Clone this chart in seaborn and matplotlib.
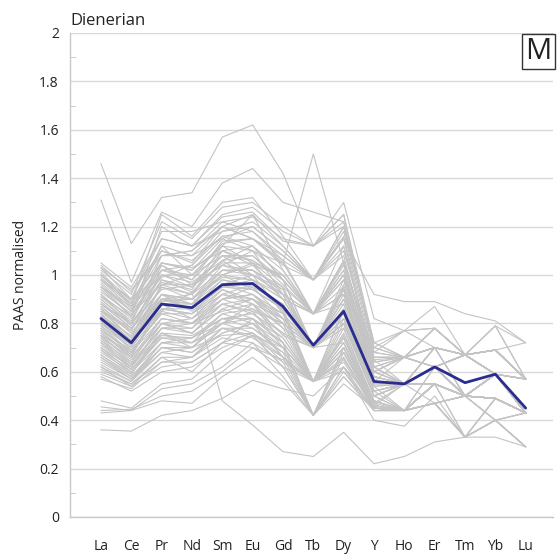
import numpy as np
import pandas as pd
import matplotlib
matplotlib.use("Agg")
import matplotlib.pyplot as plt
import seaborn as sns
from matplotlib.ticker import MultipleLocator

elements = ["La", "Ce", "Pr", "Nd", "Sm", "Eu", "Gd", "Tb", "Dy", "Y", "Ho", "Er", "Tm", "Yb", "Lu"]

mean_line = [0.82, 0.72, 0.88, 0.865, 0.96, 0.965, 0.87, 0.71, 0.85, 0.56, 0.55, 0.62, 0.555, 0.59, 0.45]

samples = [
    [1.46, 1.13, 1.32, 1.34, 1.57, 1.62, 1.42, 1.12, 1.25, 0.72, 0.66, 0.70, 0.67, 0.69, 0.57],
    [1.31, 0.97, 1.26, 1.20, 1.38, 1.44, 1.30, 1.26, 1.22, 0.70, 0.66, 0.78, 0.67, 0.69, 0.57],
    [0.95, 0.85, 1.05, 1.02, 1.12, 1.10, 1.05, 1.50, 1.05, 0.65, 0.55, 0.62, 0.50, 0.59, 0.57],
    [1.00, 0.88, 1.12, 1.08, 1.20, 1.25, 1.12, 0.98, 1.15, 0.92, 0.89, 0.89, 0.84, 0.81, 0.72],
    [0.98, 0.90, 1.15, 1.12, 1.25, 1.28, 1.18, 1.12, 1.30, 0.82, 0.77, 0.87, 0.67, 0.79, 0.72],
    [0.36, 0.355, 0.42, 0.44, 0.49, 0.565, 0.53, 0.50, 0.62, 0.40, 0.375, 0.50, 0.33, 0.49, 0.43],
    [0.75, 0.68, 0.85, 0.93, 0.48, 0.38, 0.27, 0.25, 0.35, 0.22, 0.25, 0.31, 0.33, 0.33, 0.29],
    [0.48, 0.45, 0.55, 0.57, 0.68, 0.75, 0.62, 0.56, 0.70, 0.46, 0.44, 0.55, 0.50, 0.49, 0.43],
    [0.455, 0.44, 0.53, 0.55, 0.62, 0.72, 0.58, 0.42, 0.55, 0.45, 0.44, 0.47, 0.33, 0.40, 0.29],
    [0.44, 0.445, 0.50, 0.52, 0.60, 0.70, 0.65, 0.56, 0.62, 0.48, 0.44, 0.55, 0.50, 0.49, 0.43],
    [0.43, 0.44, 0.48, 0.47, 0.58, 0.66, 0.56, 0.42, 0.58, 0.44, 0.44, 0.47, 0.33, 0.40, 0.43],
    [0.58, 0.52, 0.60, 0.62, 0.70, 0.75, 0.70, 0.56, 0.72, 0.48, 0.44, 0.55, 0.50, 0.49, 0.43],
    [0.62, 0.54, 0.66, 0.60, 0.72, 0.82, 0.66, 0.56, 0.68, 0.46, 0.44, 0.62, 0.50, 0.59, 0.43],
    [1.05, 0.95, 1.15, 1.12, 1.18, 1.20, 1.10, 0.98, 1.20, 0.70, 0.66, 0.70, 0.67, 0.69, 0.57],
    [1.02, 0.92, 1.22, 1.15, 1.28, 1.30, 1.20, 1.12, 1.20, 0.72, 0.77, 0.78, 0.67, 0.69, 0.57],
    [1.00, 0.88, 1.10, 1.05, 1.20, 1.15, 1.05, 0.84, 1.05, 0.68, 0.66, 0.70, 0.67, 0.59, 0.57],
    [0.98, 0.86, 1.05, 1.02, 1.15, 1.10, 1.00, 0.84, 1.00, 0.65, 0.66, 0.62, 0.67, 0.69, 0.57],
    [0.95, 0.83, 1.02, 0.98, 1.10, 1.12, 0.98, 0.70, 0.98, 0.62, 0.55, 0.70, 0.50, 0.59, 0.43],
    [0.92, 0.82, 1.00, 0.95, 1.05, 1.05, 0.95, 0.84, 0.95, 0.60, 0.55, 0.62, 0.67, 0.59, 0.57],
    [0.90, 0.80, 0.98, 0.95, 1.08, 1.00, 0.92, 0.70, 0.92, 0.58, 0.55, 0.62, 0.50, 0.59, 0.43],
    [0.88, 0.78, 0.95, 0.92, 1.02, 1.02, 0.95, 0.70, 0.90, 0.60, 0.66, 0.62, 0.67, 0.59, 0.43],
    [0.86, 0.76, 0.92, 0.90, 1.00, 0.98, 0.90, 0.84, 0.88, 0.56, 0.55, 0.55, 0.50, 0.59, 0.43],
    [0.85, 0.74, 0.90, 0.88, 0.98, 0.95, 0.88, 0.70, 0.85, 0.55, 0.55, 0.62, 0.50, 0.49, 0.43],
    [0.84, 0.73, 0.92, 0.85, 0.95, 0.98, 0.85, 0.56, 0.82, 0.52, 0.44, 0.55, 0.50, 0.59, 0.43],
    [0.82, 0.72, 0.88, 0.88, 0.95, 0.94, 0.86, 0.70, 0.85, 0.54, 0.55, 0.70, 0.50, 0.59, 0.43],
    [0.80, 0.70, 0.86, 0.84, 0.92, 0.90, 0.82, 0.70, 0.80, 0.50, 0.55, 0.62, 0.67, 0.59, 0.43],
    [0.78, 0.68, 0.85, 0.82, 0.90, 0.92, 0.80, 0.56, 0.78, 0.48, 0.44, 0.55, 0.50, 0.49, 0.43],
    [0.76, 0.66, 0.82, 0.80, 0.92, 0.88, 0.78, 0.70, 0.82, 0.50, 0.55, 0.62, 0.50, 0.59, 0.43],
    [0.75, 0.65, 0.80, 0.78, 0.88, 0.85, 0.80, 0.56, 0.75, 0.47, 0.44, 0.55, 0.50, 0.49, 0.43],
    [0.72, 0.63, 0.78, 0.80, 0.85, 0.88, 0.75, 0.70, 0.72, 0.46, 0.44, 0.47, 0.50, 0.49, 0.43],
    [0.70, 0.62, 0.76, 0.75, 0.82, 0.82, 0.72, 0.56, 0.70, 0.45, 0.44, 0.55, 0.33, 0.49, 0.43],
    [0.68, 0.60, 0.74, 0.72, 0.80, 0.85, 0.70, 0.42, 0.68, 0.45, 0.44, 0.47, 0.50, 0.40, 0.29],
    [0.66, 0.58, 0.72, 0.72, 0.78, 0.78, 0.68, 0.56, 0.65, 0.46, 0.55, 0.55, 0.50, 0.49, 0.43],
    [0.64, 0.57, 0.70, 0.68, 0.76, 0.80, 0.66, 0.42, 0.62, 0.44, 0.44, 0.47, 0.33, 0.40, 0.29],
    [0.62, 0.56, 0.68, 0.70, 0.75, 0.76, 0.64, 0.56, 0.60, 0.45, 0.44, 0.55, 0.50, 0.49, 0.43],
    [0.60, 0.55, 0.66, 0.66, 0.78, 0.75, 0.62, 0.42, 0.58, 0.44, 0.44, 0.47, 0.50, 0.40, 0.43],
    [1.03, 0.94, 1.08, 1.10, 1.22, 1.18, 1.08, 0.98, 1.10, 0.66, 0.66, 0.78, 0.67, 0.69, 0.57],
    [0.97, 0.85, 1.12, 1.00, 1.12, 1.25, 1.02, 0.84, 1.12, 0.64, 0.66, 0.70, 0.67, 0.69, 0.57],
    [0.93, 0.84, 0.96, 1.00, 1.08, 1.08, 0.98, 0.84, 1.02, 0.62, 0.55, 0.62, 0.67, 0.59, 0.57],
    [0.88, 0.80, 0.94, 0.96, 1.04, 1.10, 0.92, 0.70, 0.96, 0.58, 0.55, 0.70, 0.50, 0.59, 0.43],
    [0.83, 0.75, 0.95, 0.90, 1.00, 1.05, 0.90, 0.84, 0.92, 0.56, 0.66, 0.62, 0.67, 0.69, 0.57],
    [0.79, 0.70, 0.90, 0.86, 0.98, 0.96, 0.88, 0.70, 0.88, 0.55, 0.55, 0.62, 0.50, 0.59, 0.43],
    [0.77, 0.69, 0.84, 0.84, 0.96, 1.00, 0.84, 0.56, 0.86, 0.52, 0.55, 0.55, 0.50, 0.49, 0.43],
    [0.73, 0.64, 0.82, 0.80, 0.90, 0.95, 0.82, 0.70, 0.80, 0.50, 0.44, 0.62, 0.50, 0.59, 0.43],
    [0.71, 0.62, 0.80, 0.76, 0.86, 0.90, 0.78, 0.56, 0.76, 0.48, 0.44, 0.55, 0.50, 0.49, 0.43],
    [0.69, 0.61, 0.75, 0.74, 0.84, 0.86, 0.76, 0.70, 0.78, 0.47, 0.55, 0.47, 0.50, 0.49, 0.43],
    [0.67, 0.59, 0.76, 0.70, 0.82, 0.84, 0.74, 0.56, 0.74, 0.46, 0.44, 0.55, 0.50, 0.49, 0.43],
    [0.65, 0.57, 0.72, 0.74, 0.80, 0.88, 0.72, 0.42, 0.70, 0.45, 0.44, 0.47, 0.33, 0.40, 0.29],
    [0.91, 0.81, 1.04, 0.98, 1.14, 1.15, 1.04, 0.98, 1.08, 0.60, 0.66, 0.70, 0.67, 0.69, 0.57],
    [0.87, 0.77, 0.98, 0.93, 1.06, 1.08, 0.96, 0.84, 1.00, 0.58, 0.55, 0.62, 0.67, 0.59, 0.57],
    [0.81, 0.71, 0.92, 0.88, 1.02, 1.02, 0.90, 0.70, 0.94, 0.56, 0.55, 0.62, 0.50, 0.59, 0.43],
    [1.00, 0.90, 1.18, 1.18, 1.22, 1.24, 1.15, 1.12, 1.25, 0.68, 0.77, 0.70, 0.67, 0.69, 0.57],
    [0.95, 0.87, 1.08, 1.08, 1.15, 1.20, 1.10, 0.98, 1.15, 0.62, 0.66, 0.78, 0.67, 0.79, 0.57],
    [0.85, 0.78, 0.90, 0.92, 1.10, 1.04, 1.00, 0.84, 0.98, 0.60, 0.55, 0.62, 0.50, 0.59, 0.57],
    [0.76, 0.67, 0.88, 0.82, 0.94, 0.90, 0.84, 0.70, 0.84, 0.52, 0.55, 0.62, 0.67, 0.59, 0.43],
    [1.04, 0.93, 1.10, 1.06, 1.16, 1.12, 1.02, 0.84, 1.06, 0.66, 0.66, 0.70, 0.67, 0.69, 0.57],
    [1.03, 0.90, 1.05, 1.03, 1.10, 1.06, 0.98, 0.70, 0.95, 0.62, 0.55, 0.62, 0.50, 0.59, 0.43],
    [1.01, 0.89, 1.02, 1.00, 1.13, 1.15, 1.06, 0.98, 1.12, 0.64, 0.66, 0.70, 0.67, 0.69, 0.57],
    [0.99, 0.87, 1.00, 0.97, 1.06, 0.98, 0.92, 0.70, 0.90, 0.58, 0.55, 0.62, 0.50, 0.59, 0.43],
    [0.96, 0.85, 0.99, 1.04, 1.18, 1.22, 1.12, 0.98, 1.18, 0.68, 0.66, 0.78, 0.67, 0.69, 0.57],
    [0.94, 0.83, 1.04, 0.96, 1.04, 1.02, 0.94, 0.70, 0.94, 0.56, 0.55, 0.62, 0.50, 0.59, 0.43],
    [0.92, 0.80, 0.97, 0.94, 1.12, 1.05, 1.00, 0.84, 1.04, 0.60, 0.66, 0.62, 0.67, 0.59, 0.57],
    [0.90, 0.79, 1.00, 1.00, 1.00, 0.94, 0.86, 0.56, 0.85, 0.54, 0.44, 0.55, 0.50, 0.49, 0.43],
    [0.89, 0.78, 0.92, 0.90, 1.04, 1.00, 0.92, 0.84, 0.98, 0.58, 0.55, 0.70, 0.67, 0.59, 0.43],
    [0.87, 0.76, 0.90, 0.86, 0.96, 0.92, 0.84, 0.70, 0.86, 0.52, 0.55, 0.55, 0.50, 0.49, 0.43],
    [0.86, 0.74, 0.96, 0.92, 1.06, 1.12, 0.98, 0.84, 1.02, 0.60, 0.66, 0.62, 0.67, 0.69, 0.57],
    [0.84, 0.72, 0.86, 0.84, 0.94, 0.88, 0.82, 0.56, 0.80, 0.50, 0.44, 0.55, 0.50, 0.49, 0.43],
    [0.83, 0.73, 0.89, 0.90, 0.99, 0.98, 0.90, 0.70, 0.90, 0.56, 0.55, 0.62, 0.50, 0.59, 0.43],
    [0.81, 0.69, 0.84, 0.80, 0.90, 0.86, 0.80, 0.70, 0.82, 0.50, 0.55, 0.62, 0.67, 0.59, 0.43],
    [0.80, 0.71, 0.90, 0.88, 1.00, 1.04, 0.92, 0.84, 0.92, 0.56, 0.55, 0.70, 0.50, 0.59, 0.57],
    [0.79, 0.68, 0.82, 0.80, 0.88, 0.84, 0.76, 0.56, 0.74, 0.48, 0.44, 0.47, 0.50, 0.49, 0.43],
    [0.78, 0.67, 0.86, 0.86, 0.96, 0.94, 0.86, 0.70, 0.86, 0.54, 0.55, 0.62, 0.50, 0.59, 0.43],
    [0.77, 0.66, 0.80, 0.76, 0.86, 0.82, 0.74, 0.56, 0.72, 0.46, 0.44, 0.55, 0.33, 0.49, 0.43],
    [0.75, 0.64, 0.78, 0.78, 0.90, 0.92, 0.82, 0.70, 0.80, 0.50, 0.55, 0.55, 0.50, 0.49, 0.43],
    [0.74, 0.63, 0.76, 0.72, 0.84, 0.80, 0.72, 0.42, 0.70, 0.46, 0.44, 0.47, 0.50, 0.40, 0.43],
    [0.73, 0.62, 0.80, 0.82, 0.92, 0.96, 0.86, 0.70, 0.84, 0.52, 0.55, 0.62, 0.50, 0.59, 0.43],
    [0.72, 0.61, 0.74, 0.74, 0.82, 0.78, 0.70, 0.56, 0.68, 0.45, 0.44, 0.47, 0.50, 0.49, 0.43],
    [0.70, 0.60, 0.72, 0.70, 0.80, 0.76, 0.68, 0.42, 0.66, 0.44, 0.44, 0.47, 0.33, 0.40, 0.29],
    [0.69, 0.59, 0.78, 0.76, 0.88, 0.90, 0.80, 0.70, 0.80, 0.50, 0.55, 0.62, 0.50, 0.59, 0.43],
    [0.67, 0.58, 0.70, 0.68, 0.78, 0.74, 0.66, 0.56, 0.66, 0.45, 0.44, 0.55, 0.50, 0.49, 0.43],
    [0.66, 0.57, 0.68, 0.66, 0.74, 0.72, 0.64, 0.42, 0.62, 0.44, 0.44, 0.47, 0.33, 0.40, 0.29],
    [0.63, 0.56, 0.70, 0.70, 0.80, 0.82, 0.72, 0.56, 0.70, 0.46, 0.44, 0.55, 0.50, 0.49, 0.43],
    [0.61, 0.55, 0.64, 0.64, 0.72, 0.70, 0.62, 0.42, 0.60, 0.44, 0.44, 0.47, 0.50, 0.40, 0.43],
    [0.59, 0.54, 0.62, 0.64, 0.72, 0.76, 0.66, 0.56, 0.64, 0.45, 0.44, 0.47, 0.33, 0.49, 0.43],
    [0.57, 0.53, 0.64, 0.66, 0.76, 0.80, 0.70, 0.56, 0.68, 0.46, 0.44, 0.55, 0.50, 0.49, 0.43],
    [0.91, 0.83, 1.20, 1.12, 1.24, 1.26, 1.14, 1.12, 1.22, 0.70, 0.77, 0.78, 0.67, 0.79, 0.57],
    [0.98, 0.88, 1.25, 1.16, 1.30, 1.32, 1.16, 0.98, 1.20, 0.72, 0.66, 0.78, 0.67, 0.69, 0.72],
    [0.88, 0.80, 1.08, 1.10, 1.20, 1.15, 1.08, 0.98, 1.16, 0.66, 0.66, 0.70, 0.67, 0.69, 0.57],
    [0.85, 0.77, 1.02, 1.04, 1.16, 1.18, 1.06, 0.84, 1.06, 0.62, 0.66, 0.70, 0.67, 0.59, 0.57],
    [0.80, 0.72, 0.96, 0.96, 1.08, 1.06, 0.98, 0.84, 1.00, 0.60, 0.55, 0.62, 0.67, 0.59, 0.43],
    [0.74, 0.66, 0.90, 0.90, 1.02, 1.00, 0.94, 0.70, 0.94, 0.56, 0.55, 0.62, 0.50, 0.59, 0.43],
]

title_text = "Dienerian"
y_label = "PAAS normalised"
panel_letter = "M"

rows = []
for sid, vals in enumerate(samples):
    for pos, (el, v) in enumerate(zip(elements, vals)):
        rows.append({"sample": sid, "pos": pos, "element": el, "value": v})
df = pd.DataFrame(rows)
mean_df = pd.DataFrame({"pos": range(len(elements)), "value": mean_line})

sns.set_style("white")
plt.rcParams["font.family"] = ["Open Sans", "DejaVu Sans"]

fig = plt.figure(figsize=(5.58, 5.59), dpi=100)
ax = fig.add_axes([70 / 558, 1 - 517 / 559, (553 - 70) / 558, (517 - 33) / 559])

sns.lineplot(data=df, x="pos", y="value", units="sample", estimator=None,
             color="#c4c4c4", linewidth=0.8, ax=ax, legend=False)
sns.lineplot(data=mean_df, x="pos", y="value", color="#2b2d8e", linewidth=2.0, ax=ax, legend=False)

ax.set_xlim(-1.02, 14.9)
ax.set_ylim(0, 2)
ax.yaxis.set_minor_locator(MultipleLocator(0.1))
ax.set_yticks(np.arange(0, 2.01, 0.2))
ax.set_yticklabels(["0", "0.2", "0.4", "0.6", "0.8", "1", "1.2", "1.4", "1.6", "1.8", "2"])
ax.set_xticks(range(len(elements)))
ax.set_xticklabels(elements)
ax.grid(axis="y", which="major", color="#d9d9d9", linewidth=1.0)
ax.set_axisbelow(True)

for side in ["top", "right"]:
    ax.spines[side].set_visible(False)
for side in ["left", "bottom"]:
    ax.spines[side].set_color("#c8c8c8")
    ax.spines[side].set_linewidth(1.0)

ax.tick_params(axis="y", which="major", length=0, labelsize=10, pad=8, labelcolor="#222222")
ax.tick_params(axis="y", which="minor", direction="in", length=4, color="#c8c8c8", left=True)
ax.tick_params(axis="x", which="major", direction="out", length=7, color="#c8c8c8",
               labelsize=10, pad=9, labelcolor="#222222")

ax.set_xlabel("")
ax.set_ylabel(y_label, fontsize=10, color="#222222", labelpad=8)
ax.text(0.0, 1.008, title_text, transform=ax.transAxes, fontsize=12,
        ha="left", va="bottom", color="#222222")
ax.text(0.970, 0.961, panel_letter, transform=ax.transAxes, fontsize=21,
        ha="center", va="center", color="#222222",
        bbox=dict(boxstyle="square,pad=0.1", facecolor="white", edgecolor="#333333", linewidth=1.0))

fig.savefig("out.png", dpi=100, facecolor="white")
